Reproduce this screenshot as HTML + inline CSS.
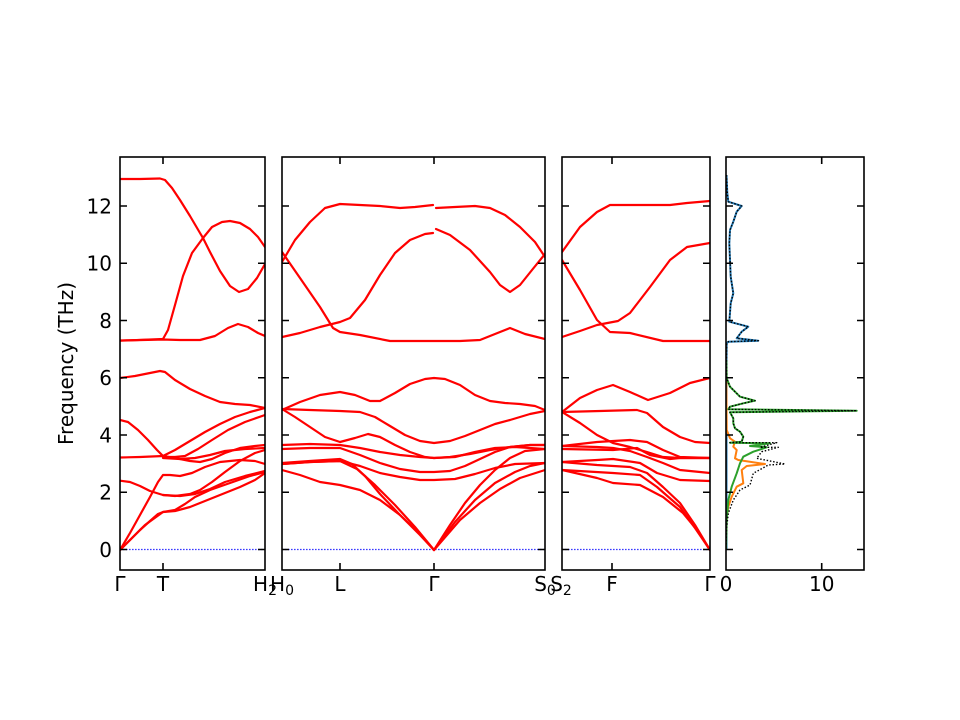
<!DOCTYPE html>
<html><head><meta charset="utf-8"><style>
html,body{margin:0;padding:0;background:#fff;}
svg{display:block;}
text{font-family:"DejaVu Sans","Liberation Sans",sans-serif;font-size:20px;fill:#000;}
.b{fill:none;stroke:#ff0000;stroke-width:2.2;stroke-linejoin:round;stroke-linecap:round;}
.z{stroke:#3a3aff;stroke-width:1.3;stroke-dasharray:1.6 1.4;fill:none;}
.ax{fill:none;stroke:#000;stroke-width:1.6;}
.tk{stroke:#000;stroke-width:1.6;}
</style></head><body>
<svg width="960" height="720" viewBox="0 0 960 720" xmlns="http://www.w3.org/2000/svg">
<defs>
<clipPath id="c1"><rect x="120" y="157" width="145" height="413"/></clipPath>
<clipPath id="c2"><rect x="282" y="157" width="263" height="413"/></clipPath>
<clipPath id="c3"><rect x="562" y="157" width="148" height="413"/></clipPath>
<clipPath id="c4"><rect x="726" y="157" width="138" height="413"/></clipPath>
</defs>
<rect width="960" height="720" fill="#fff"/>

<!-- Panel 1 -->
<g clip-path="url(#c1)">
<line class="z" x1="120" y1="549.5" x2="265" y2="549.5"/>
<polyline class="b" points="120,179 140,179 160,178.5 165,180 172,188 180,200 190,216 200,233 203,238 210,252 220,271 230,286 239,292 248,289 257,278 265,264"/>
<polyline class="b" points="120,340.7 163,339 168,330 175,305 183,276 192,253 203,238 212,227 222,222 230,221 240,223 250,229 258,237 265,247"/>
<polyline class="b" points="120,340.5 163,339.5 180,340 200,340 215,336 228,328 238,324 248,327 258,333 265,336"/>
<polyline class="b" points="120,378 135,376 150,373 160,371 165,372 175,380 190,389 205,396 220,402 235,404 250,405 265,408"/>
<polyline class="b" points="120,420 128,422 138,430 148,440 157,450 163,456 175,450 190,441 205,432 220,424 235,417 250,412 265,408"/>
<polyline class="b" points="120,457.5 140,457 163,456 175,458 190,461 200,462 212,459 225,453 240,448 255,446 265,445"/>
<polyline class="b" points="163,457 175,457 185,456 198,449 212,440 228,430 245,422 265,415"/>
<polyline class="b" points="163,458 180,459 195,458 210,455 225,451 245,449 265,448"/>
<polyline class="b" points="120,550 130,533 140,515 150,497 158,482 163,475 170,475 180,476 192,473 205,467 220,462 240,460 255,461 265,464"/>
<polyline class="b" points="120,480.7 130,482 140,486 150,491 163,495 175,496 190,494 200,490 212,482 225,472 240,461 255,453 265,450"/>
<polyline class="b" points="163,495 180,496 195,494 210,489 225,482 245,476 265,471"/>
<polyline class="b" points="120,550 130,540 140,530 150,521 158,514 163,512 175,510 185,504 195,497 210,490 230,483 250,476 265,472"/>
<polyline class="b" points="120,550 132,538 145,525 163,512 175,511 190,507 205,501 220,495 240,487 255,480 265,473"/>
</g>

<!-- Panel 2 -->
<g clip-path="url(#c2)">
<line class="z" x1="282" y1="549.5" x2="545" y2="549.5"/>
<polyline class="b" points="282,262 295,240 310,222 325,208 340,204 360,205 380,206 400,208 415,207 433,205"/>
<polyline class="b" points="436,208 455,207 475,206 490,208 505,215 520,227 535,242 545,257"/>
<polyline class="b" points="282,252 300,278 320,307 333,328 340,332 360,335 390,341 420,341 434,341 460,341 480,340 495,334 510,328 525,334 545,339"/>
<polyline class="b" points="282,337 300,333 320,327 340,322 350,318 365,300 380,275 395,253 410,240 425,234 433,233"/>
<polyline class="b" points="436,229 450,235 470,250 490,272 500,285 510,292 520,285 532,270 545,254"/>
<polyline class="b" points="282,410 300,402 320,395 340,392 355,395 370,401 380,401 395,393 410,384 425,379 434,378 445,379 460,385 475,395 490,401 505,403 520,404 535,406 545,410"/>
<polyline class="b" points="282,409 310,410 340,411 360,412 375,417 390,426 405,435 420,441 434,443 450,441 465,436 480,430 495,424 510,420 530,414 545,411"/>
<polyline class="b" points="282,409 295,417 310,427 325,437 340,442 355,438 368,434 380,437 395,445 410,452 425,457 434,458 450,457 470,454 490,450 510,447 530,445 545,445"/>
<polyline class="b" points="282,445 310,444 340,445 360,448 380,452 400,455 420,457 434,458 455,457 475,452 495,448 515,447 545,449"/>
<polyline class="b" points="282,449 310,448 340,448 360,455 380,463 400,469 420,472 434,472 450,471 465,466 480,459 495,452 510,447 530,445 545,445"/>
<polyline class="b" points="282,464 310,462 340,461 360,466 380,473 400,477 420,480 434,480 455,479 475,474 495,468 515,464 545,463"/>
<polyline class="b" points="282,464 310,462 340,461 357,469 375,485 395,505 415,527 434,550"/>
<polyline class="b" points="282,470 300,475 320,482 340,485 360,490 380,500 400,515 418,532 434,550"/>
<polyline class="b" points="282,463 310,461 340,459 352,464 365,476 380,494 400,515 420,535 434,550"/>
<polyline class="b" points="434,550 450,525 465,503 480,485 495,470 510,458 525,451 545,449"/>
<polyline class="b" points="434,550 455,522 475,500 495,483 515,472 530,466 545,463"/>
<polyline class="b" points="434,550 460,520 480,503 500,489 520,478 545,470"/>
</g>

<!-- Panel 3 -->
<g clip-path="url(#c3)">
<line class="z" x1="562" y1="549.5" x2="710" y2="549.5"/>
<polyline class="b" points="562,252 580,227 597,212 610,205 640,205 670,205 687,203 710,201"/>
<polyline class="b" points="562,260 580,290 597,320 610,332 630,333 663,341 710,341"/>
<polyline class="b" points="562,337 580,331 597,325 618,321 630,313 650,287 670,260 687,247 710,243"/>
<polyline class="b" points="562,412 580,398 597,390 613,385 630,392 648,400 670,393 690,383 710,378"/>
<polyline class="b" points="562,412 600,411 637,410 647,413 663,427 680,437 695,442 710,443"/>
<polyline class="b" points="562,412 580,423 597,435 613,443 630,447 647,452 663,457 680,458 710,458"/>
<polyline class="b" points="562,446 597,442 630,440 647,442 663,450 680,457 710,458"/>
<polyline class="b" points="562,446 597,447 613,448 630,451 647,457 663,463 680,470 710,473"/>
<polyline class="b" points="562,449 613,450 637,448 650,455 670,459 680,458 710,458"/>
<polyline class="b" points="562,462 597,460 613,459 640,463 657,473 680,480 710,481"/>
<polyline class="b" points="562,462 597,465 630,467 647,473 663,487 680,503 695,525 710,550"/>
<polyline class="b" points="562,470 613,473 640,475 657,487 680,507 695,528 710,550"/>
<polyline class="b" points="562,470 597,478 613,483 640,485 663,497 683,513 697,530 710,550"/>
</g>

<!-- DOS panel -->
<g clip-path="url(#c4)" fill="none" stroke-linejoin="round">
<polyline stroke="#1f77b4" stroke-width="2" points="726.5,175 727.3,193.3 728.3,201.7 741.7,206 736.7,211.7 733.3,221.7 730,230 729.3,243.3 730,260 730.7,276.7 733.3,293.3 730.7,303.3 729.3,321.7 748.3,326.7 741.7,331.7 736.7,338.3 758.3,340.7 728.3,341.7 726.7,343.3 726.5,360 726.5,550"/>
<polyline stroke="#ff7f0e" stroke-width="2" points="726.3,380 726.7,430 730,438.3 735,441.7 733.3,446.7 736.7,450 735,458.3 738.3,460 765,464 746.7,466 741.7,470 743.3,483.3 736.7,486.7 731.7,496.7 728.3,506.7 726.7,516.7 726,533 726,550"/>
<polyline stroke="#2ca02c" stroke-width="2" points="726.3,360 726.7,378.3 730,386.7 740,396.7 755,400.7 743.3,403.3 730,406.7 728.3,409.3 856.7,410.7 730,412.3 733.3,418.3 733.3,423.3 735,428.3 740,431.7 743.3,436.7 741.7,441.7 730,442.7 770,443.3 750,446 766.7,447.3 753.3,451.7 743.3,456.7 740,463.3 736.7,473.3 731.7,486.7 728.3,500 726.7,520 726,550"/>
<polyline stroke="#000" stroke-width="1.4" stroke-dasharray="1.5 1.8" points="726.5,175 727.3,193.3 728.3,201.7 741.7,206 736.7,211.7 733.3,221.7 730,230 729.3,243.3 730,260 730.7,276.7 733.3,293.3 730.7,303.3 729.3,321.7 748.3,326.7 741.7,331.7 736.7,338.3 758.3,340.7 728.3,341.7 726.7,343.3 726.5,360 726.7,378.3 730,386.7 740,396.7 755,400.7 743.3,403.3 730,406.7 728.3,409.3 856.7,410.7 730,412.3 733.3,418.3 733.3,423.3 735,428.3 740,431.7 743.3,436.7 741.7,441.7 730,442.7 776.7,442.7 760,447.3 778.3,447.3 761.7,451.7 756.7,458.3 785,464 768.3,465 753.3,473.3 750,485 740,490 733.3,500 728.3,513.3 726.7,526.7 726,546.7"/>
</g>

<!-- Axes frames -->
<rect class="ax" x="120" y="157" width="145" height="413"/>
<rect class="ax" x="282" y="157" width="263" height="413"/>
<rect class="ax" x="562" y="157" width="148" height="413"/>
<rect class="ax" x="726" y="157" width="138" height="413"/>

<!-- Y ticks (inward, both sides) -->
<g class="tk">
<path d="M120 549.5h7M120 492.25h7M120 435h7M120 377.75h7M120 320.5h7M120 263.25h7M120 206h7
M265 549.5h-7M265 492.25h-7M265 435h-7M265 377.75h-7M265 320.5h-7M265 263.25h-7M265 206h-7
M282 549.5h7M282 492.25h7M282 435h7M282 377.75h7M282 320.5h7M282 263.25h7M282 206h7
M545 549.5h-7M545 492.25h-7M545 435h-7M545 377.75h-7M545 320.5h-7M545 263.25h-7M545 206h-7
M562 549.5h7M562 492.25h7M562 435h7M562 377.75h7M562 320.5h7M562 263.25h7M562 206h7
M710 549.5h-7M710 492.25h-7M710 435h-7M710 377.75h-7M710 320.5h-7M710 263.25h-7M710 206h-7
M726 549.5h7M726 492.25h7M726 435h7M726 377.75h7M726 320.5h7M726 263.25h7M726 206h7
M864 549.5h-7M864 492.25h-7M864 435h-7M864 377.75h-7M864 320.5h-7M864 263.25h-7M864 206h-7
M163 157v7M163 570v-7M340 157v7M340 570v-7M434 157v7M434 570v-7M612 157v7M612 570v-7
M821.7 157v7M821.7 570v-7" fill="none"/>
</g>

<!-- Y tick labels -->
<g text-anchor="end">
<text x="112" y="556.8">0</text>
<text x="112" y="499.5">2</text>
<text x="112" y="442.3">4</text>
<text x="112" y="385">6</text>
<text x="112" y="327.8">8</text>
<text x="112" y="270.5">10</text>
<text x="112" y="213.3">12</text>
</g>

<!-- X tick labels -->
<g text-anchor="middle">
<text x="120" y="591">Γ</text>
<text x="163" y="591">T</text>
<text x="265" y="591">H<tspan font-size="14" dy="4">2</tspan></text>
<text x="282" y="591">H<tspan font-size="14" dy="4">0</tspan></text>
<text x="340" y="591">L</text>
<text x="434" y="591">Γ</text>
<text x="545" y="591">S<tspan font-size="14" dy="4">0</tspan></text>
<text x="561" y="591">S<tspan font-size="14" dy="4">2</tspan></text>
<text x="612" y="591">F</text>
<text x="710" y="591">Γ</text>
<text x="726" y="591">0</text>
<text x="821.7" y="591">10</text>
</g>

<!-- Y label -->
<text transform="translate(73,363.5) rotate(-90)" text-anchor="middle">Frequency (THz)</text>
</svg>
</body></html>
